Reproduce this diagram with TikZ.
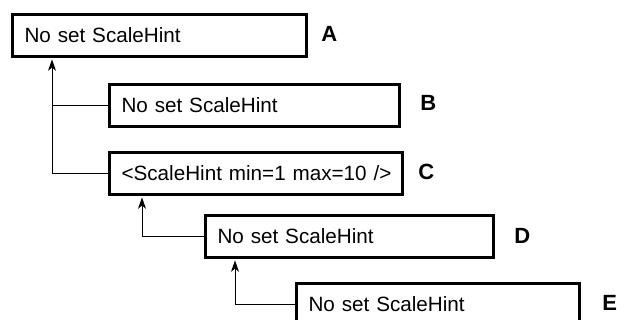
\documentclass[tikz,border=0pt]{standalone}
\usepackage{fontspec}
\setmainfont{Liberation Sans}
\usepackage{tikz}
\usetikzlibrary{arrows.meta}

\tikzset{
  hintbox/.style={draw, line width=2.25pt, anchor=north west, align=left,
    inner xsep=9pt, inner ysep=0pt, minimum height=31.5pt,
    font=\fontsize{15.5}{18}\selectfont},
  tag/.style={anchor=west, inner sep=0pt, font=\fontsize{16.5}{19}\selectfont\bfseries},
  hintarrow/.style={line width=0.75pt, -{Stealth[length=8.5pt,width=6pt,inset=2.5pt]}},
  branch/.style={line width=0.75pt}
}

\begin{document}
\begin{tikzpicture}[x=0.75pt,y=-0.75pt]
        \useasboundingbox (0,0) rectangle (617,320);

        % boxes
        \node[hintbox,text width=202.5pt] (A) at (11,13) {No set ScaleHint};
        \node[hintbox,text width=199.5pt] (B) at (108,83) {No set ScaleHint};
        \node[hintbox,text width=201.75pt] (C) at (108,151) {\mbox{<ScaleHint min=1 max=10 />}};
        \node[hintbox,text width=198pt] (D) at (204,214) {No set ScaleHint};
        \node[hintbox,text width=194.25pt] (E) at (295,282) {No set ScaleHint};

        % letters
        \node[tag] (tA) at (321,34) {A};
        \node[tag] (tB) at (420,103) {B};
        \node[tag] (tC) at (418,172) {C};
        \node[tag] (tD) at (514,236) {D};
        \node[tag] (tE) at (602,303) {E};

        % where the arrows come in (outer edge of the box line)
        \coordinate (inA) at ([xshift=30.75pt,yshift=-1.1pt]A.south west);
        \coordinate (inC) at ([xshift=25.5pt,yshift=-1.1pt]C.south west);
        \coordinate (inD) at ([xshift=23.25pt,yshift=-1.1pt]D.south west);

        \draw[hintarrow] (C.west) -| (inA);
        \draw[branch] (B.west) -- (B.west -| inA);
        \draw[hintarrow] (D.west) -| (inC);
        \draw[hintarrow] (E.west) -| (inD);

\end{tikzpicture}
\end{document}
